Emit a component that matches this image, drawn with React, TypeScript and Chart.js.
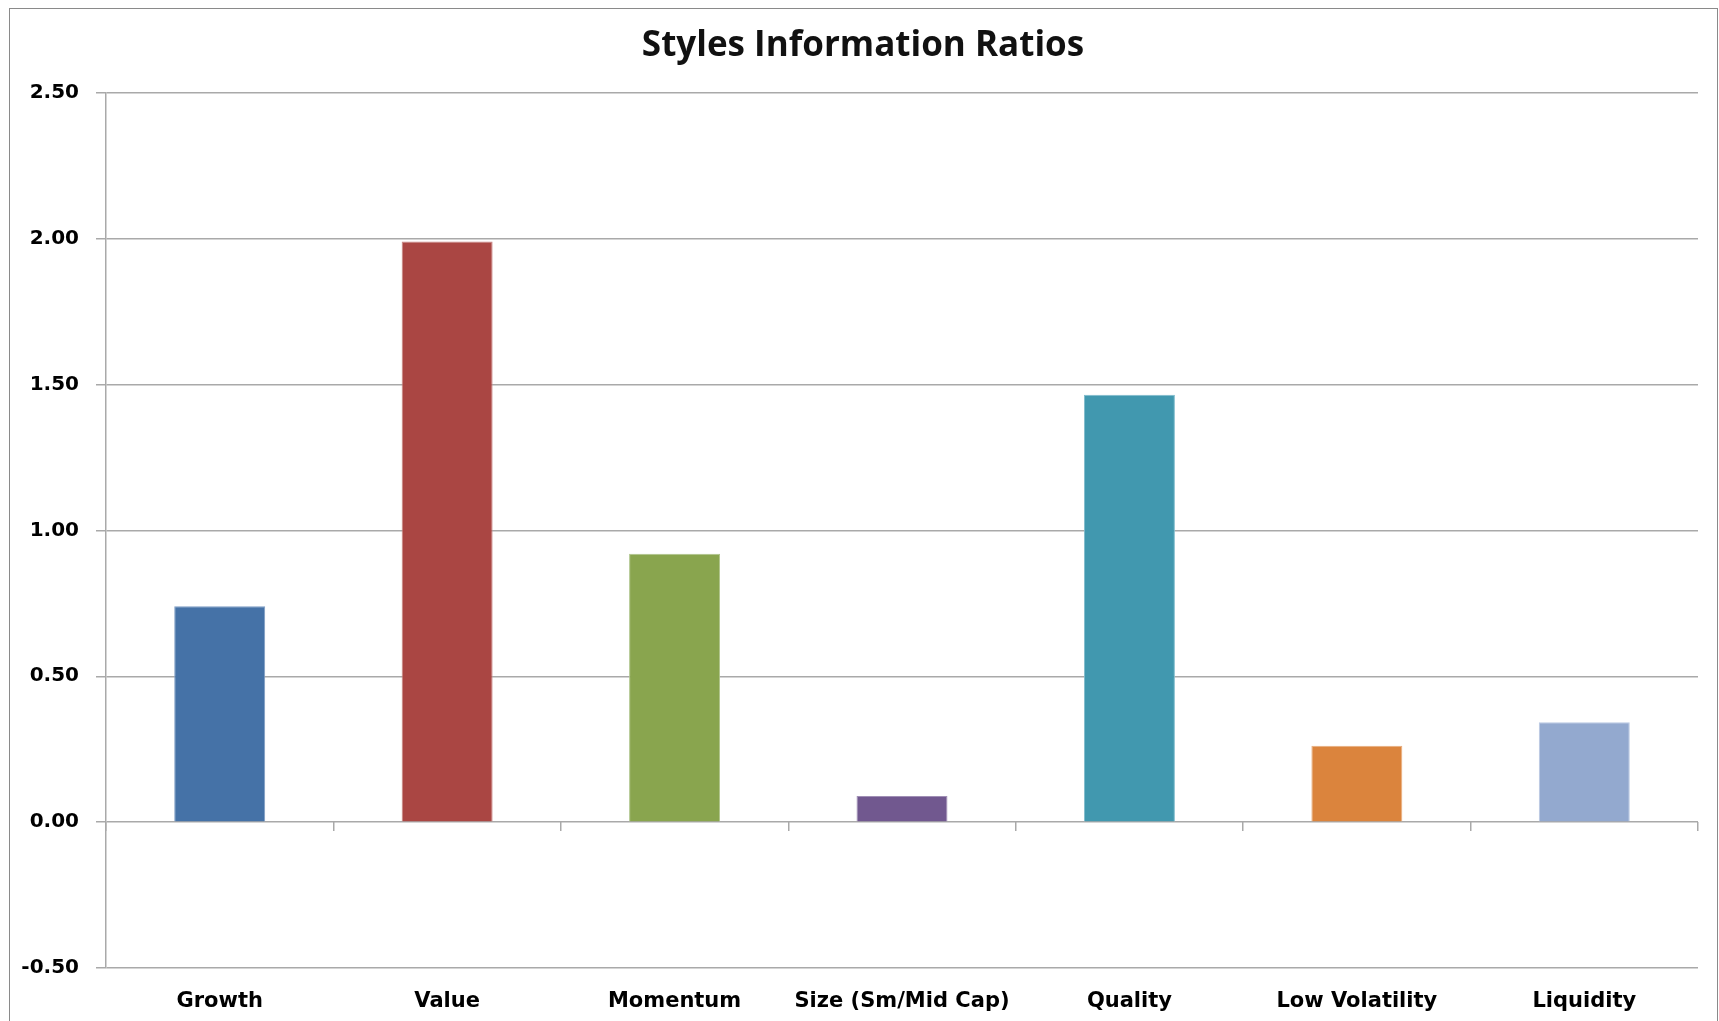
import React, { useEffect, useRef } from "react";
import { Chart, registerables } from "chart.js";

Chart.register(...registerables);

const chartTitle = "Styles Information Ratios";
const categories = [
  "Growth",
  "Value",
  "Momentum",
  "Size (Sm/Mid Cap)",
  "Quality",
  "Low Volatility",
  "Liquidity",
];
const ratios = [0.74, 1.99, 0.92, 0.09, 1.465, 0.262, 0.342];
const barColors = ["#4572A7", "#AA4643", "#89A54E", "#71588F", "#4198AF", "#DB843D", "#93A9CF"];
const barEdges = ["#7d9cc4", "#c98583", "#aec48a", "#a08fb5", "#7fbccd", "#e8ad7e", "#b9c8e2"];
const yTickValues = [-0.5, 0, 0.5, 1, 1.5, 2, 2.5];

const GRID = "#a9a9a9";

// centre the title on the framed box rather than on the canvas minus padding
const titleShift = {
  id: "titleShift",
  afterLayout(chart: any) {
    const t = chart.titleBlock;
    if (t) {
      t.left += 14;
      t.right += 14;
    }
  },
};

export default function App() {
  const ref = useRef<HTMLCanvasElement | null>(null);

  useEffect(() => {
    if (!ref.current) return;
    const chart = new Chart(ref.current, {
      type: "bar",
      plugins: [titleShift],
      data: {
        labels: categories,
        datasets: [
          {
            data: ratios,
            backgroundColor: barColors,
            borderColor: barEdges,
            borderWidth: 1,
            barPercentage: 0.4,
            categoryPercentage: 1,
            xAxisID: "x",
          },
        ],
      },
      options: {
        responsive: false,
        animation: false,
        layout: { padding: { left: 0, right: 21, top: 0, bottom: 0 } },
        plugins: {
          legend: { display: false },
          tooltip: { enabled: false },
          title: {
            display: true,
            text: chartTitle,
            color: "#111",
            font: { family: "Open Sans", size: 35, weight: "bold", lineHeight: 1.2 },
            padding: { top: 25.5, bottom: 25.3 },
          },
        },
        scales: {
          x: {
            type: "category",
            position: "bottom",
            offset: true,
            grid: { display: false, drawTicks: false },
            border: { display: false },
            ticks: {
              color: "#000",
              padding: 21,
              maxRotation: 0,
              autoSkip: false,
              font: { family: "DejaVu Sans", size: 21, weight: "bold" },
            },
            afterFit: (s: any) => {
              s.height = 53;
            },
          },
          x0: {
            type: "category",
            axis: "x",
            labels: categories,
            position: { y: 0 } as any,
            offset: true,
            grid: {
              offset: true,
              drawOnChartArea: false,
              drawTicks: true,
              tickLength: 9,
              color: GRID,
              lineWidth: 1.5,
            },
            border: { display: false },
            ticks: { display: false },
          },
          y: {
            min: -0.5,
            max: 2.5,
            afterBuildTicks: (s: any) => {
              s.ticks = yTickValues.map((v) => ({ value: v }));
            },
            grid: { color: GRID, lineWidth: 1.5, tickLength: 10 },
            border: { display: true, color: GRID, width: 1.5 },
            ticks: {
              color: "#000",
              padding: 17,
              font: { family: "DejaVu Sans", size: 20, weight: "bold" },
              callback: (v: any) => Number(v).toFixed(2),
            },
            afterFit: (s: any) => {
              s.width = 106;
            },
          },
        },
      },
    });
    return () => chart.destroy();
  }, []);

  return (
    <>
      <canvas
        ref={ref}
        width={1719}
        height={1021}
        style={{ position: "fixed", left: 0, top: 0, width: 1719, height: 1021, background: "#fff" }}
      />
      <div
        style={{
          position: "fixed",
          left: 9,
          top: 8,
          width: 1709,
          height: 1030,
          boxSizing: "border-box",
          border: "1.5px solid #8a8a8a",
          pointerEvents: "none",
        }}
      />
    </>
  );
}
